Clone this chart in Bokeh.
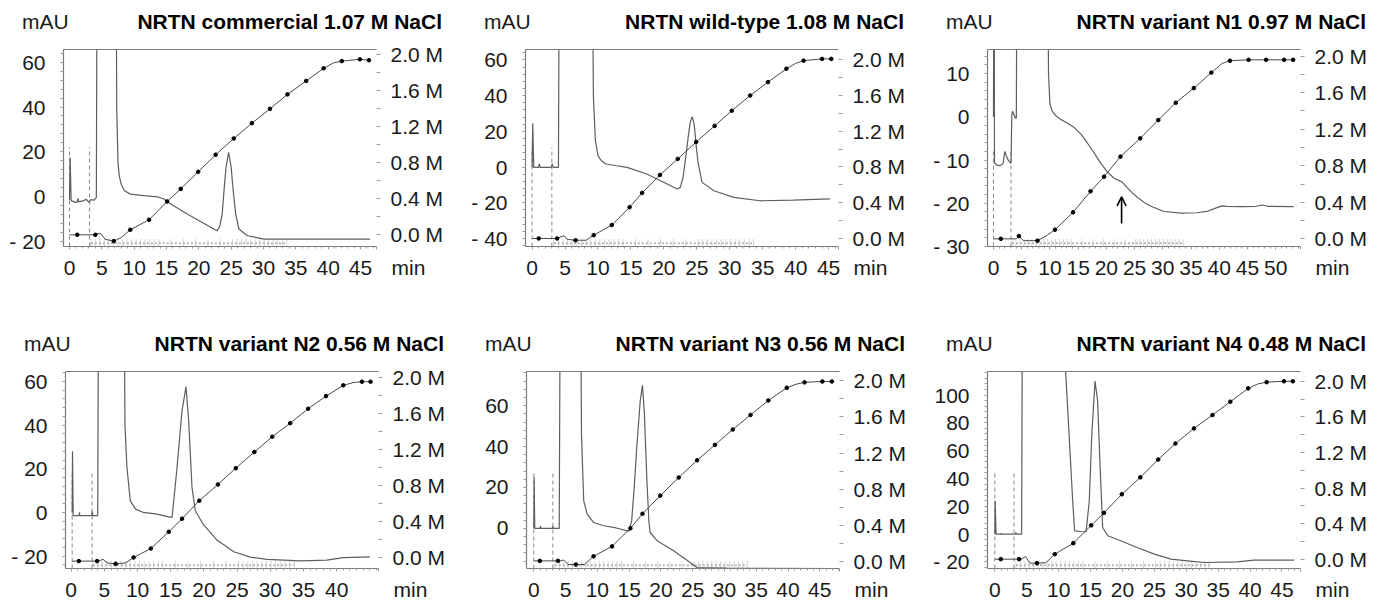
from bokeh.plotting import figure
from bokeh.layouts import row, column
from bokeh.models import (Range1d, LinearAxis, FixedTicker, PrintfTickFormatter,
                          CustomJSTickFormatter, Arrow, OpenHead, Div)
from bokeh.embed import file_html
from bokeh.resources import INLINE

FONT = "Liberation Sans"

titles = ["NRTN commercial 1.07 M NaCl", "NRTN wild-type 1.08 M NaCl",
          "NRTN variant N1 0.97 M NaCl", "NRTN variant N2 0.56 M NaCl",
          "NRTN variant N3 0.56 M NaCl", "NRTN variant N4 0.48 M NaCl"]

# ---------------- Panel 1: commercial ----------------
p1_uv_t = [0.0, 0.1, 0.25, 0.9, 1.2, 1.3, 1.45, 2.2, 2.6, 3.0, 3.3, 3.8, 4.15, 4.3, 7.15, 7.3, 7.5, 7.7, 8.0, 8.5,
           9.4, 11.5, 13.6, 14.6, 15.1, 18.2, 22.8, 23.2, 23.6, 23.9, 24.2, 24.6, 25.0, 25.3, 25.7, 26.2, 27.5, 30.1, 46.5]
p1_uv_mau = [-1.5, 17.5, -1.8, -2.6, -2.5, -0.8, -2.4, -1.8, -1.2, -2.6, -1.4, -1.6, -0.4, 150, 150, 40, 15, 9, 5.5, 2.6,
             1.1, 0.4, -0.1, -1.1, -2.3, -7.8, -15.3, -13.5, -8, 3, 13, 19.8, 13, 3, -8, -14.5, -17.5, -19.0, -19.0]
p1_grad_t = [0.0, 1.2, 4.0, 4.4, 4.9, 5.5, 6.85, 8.0, 9.4, 12.3, 15.1, 17.2, 19.9, 22.6, 25.4, 28.2, 31.0, 33.7,
             36.6, 39.3, 40.8, 42.1, 44.9, 46.3]
p1_grad_m = [0.0, 0.0, 0.0, 0.015, 0.01, -0.05, -0.07, -0.03, 0.056, 0.167, 0.37, 0.51, 0.70, 0.89, 1.07, 1.24, 1.40, 1.56,
             1.71, 1.85, 1.91, 1.93, 1.95, 1.94]
p1_dot_t = [1.2, 4.0, 6.85, 9.4, 12.3, 15.1, 17.2, 19.9, 22.6, 25.4, 28.2, 31.0, 33.7, 36.6, 39.3, 42.1, 44.9, 46.3]
p1_dot_m = [0.0, 0.0, -0.07, 0.056, 0.167, 0.37, 0.51, 0.70, 0.89, 1.07, 1.24, 1.40, 1.56, 1.71, 1.85, 1.93, 1.95, 1.94]

# ---------------- Panel 2: wild-type ----------------
p2_uv_t = [0.0, 0.1, 0.25, 1.0, 1.1, 1.2, 2.9, 3.05, 3.2, 4.0, 4.15, 9.1, 9.3, 9.6, 10.0, 10.5, 11.2, 12.8, 14.4, 17.4,
           20.5, 22.0, 22.5, 22.9, 23.3, 23.7, 24.0, 24.3, 24.6, 24.9, 25.2, 25.8, 27.6, 30.6, 34.6, 39.6, 45.2]
p2_uv_mau = [-0.2, 24.5, -0.2, -0.2, 1.7, -0.2, -0.2, 1.7, -0.2, -0.2, 150, 150, 40, 15, 6.5, 3.5, 1.7, 0.7, -0.2, -3.9,
             -9.5, -12.3, -11.4, -6, 5, 17, 25, 28.2, 24, 12, 2, -8.6, -13.3, -17.0, -18.9, -18.5, -17.8]
p2_grad_t = [0.0, 1.0, 3.8, 4.4, 4.9, 5.3, 6.6, 8.2, 9.35, 12.1, 14.8, 16.7, 19.4, 22.1, 24.9, 27.7, 30.3, 33.1,
             35.8, 38.6, 40.0, 41.2, 44.0, 45.4]
p2_grad_m = [0.0, 0.0, 0.0, 0.02, 0.03, -0.01, -0.02, -0.02, 0.037, 0.15, 0.35, 0.51, 0.71, 0.89, 1.08, 1.26, 1.43, 1.60,
             1.75, 1.90, 1.96, 1.99, 2.01, 2.01]
p2_dot_t = [1.0, 3.8, 6.6, 9.35, 12.1, 14.8, 16.7, 19.4, 22.1, 24.9, 27.7, 30.3, 33.1, 35.8, 38.6, 41.2, 44.0, 45.4]
p2_dot_m = [0.0, 0.0, -0.02, 0.037, 0.15, 0.35, 0.51, 0.71, 0.89, 1.08, 1.26, 1.43, 1.60, 1.75, 1.90, 1.99, 2.01, 2.01]

# ---------------- Panel 3: variant N1 ----------------
p3_uv_t = [0.0, 0.05, 0.12, 0.18, 0.6, 1.2, 1.7, 2.0, 2.3, 2.7, 3.1, 3.25, 3.4, 3.6, 3.9, 4.05, 4.15, 9.6, 9.75, 10.0,
           10.4, 11.0, 11.9, 13.0, 14.3, 15.5, 16.6, 17.8, 19.0, 20.2, 21.4, 22.2, 22.8, 23.7, 24.6, 25.5, 26.7, 27.9,
           30.2, 33.2, 36.1, 38.0, 39.6, 40.5, 41.4, 43.8, 46.5, 47.6, 48.6, 53.2]
p3_uv_mau = [0.0, 40, 40, -10.7, -11.2, -11.3, -10.8, -8.0, -9.2, -10.2, -10.8, 0.5, 1.3, 0.5, -0.3, -0.3, 40, 40, 10, 3,
             1.3, 0.3, -0.6, -1.4, -2.5, -4.0, -6.0, -8.3, -10.7, -12.8, -14.2, -14.7, -15.1, -16.4, -17.6, -18.6, -19.8,
             -20.7, -21.9, -22.3, -22.2, -21.8, -21.0, -20.6, -20.7, -20.8, -20.7, -20.4, -20.7, -20.8]
p3_grad_t = [0.0, 1.3, 4.0, 4.5, 5.3, 7.8, 9.3, 10.9, 14.1, 17.2, 19.6, 22.5, 26.0, 29.2, 32.3, 35.5, 38.6, 40.5,
             41.9, 45.2, 48.3, 51.5, 53.1]
p3_grad_m = [0.0, 0.0, 0.0, 0.03, -0.02, -0.02, 0.03, 0.10, 0.29, 0.52, 0.68, 0.90, 1.10, 1.30, 1.49, 1.65, 1.82, 1.92,
             1.95, 1.96, 1.96, 1.96, 1.96]
p3_dot_t = [1.3, 4.5, 7.8, 10.9, 14.1, 17.2, 19.6, 22.5, 26.0, 29.2, 32.3, 35.5, 38.6, 41.9, 45.2, 48.3, 51.5, 53.1]
p3_dot_m = [0.0, 0.03, -0.02, 0.10, 0.29, 0.52, 0.68, 0.90, 1.10, 1.30, 1.49, 1.65, 1.82, 1.95, 1.96, 1.96, 1.96, 1.96]
p3_arrow_t = 22.7
p3_arrow_mau = [-24.7, -18.5]

# ---------------- Panel 4: variant N2 ----------------
p4_uv_t = [0.15, 0.2, 0.3, 1.2, 1.25, 1.3, 3.1, 3.16, 3.25, 4.0, 4.16, 7.9, 8.1, 8.4, 8.9, 9.7, 10.9, 12.9, 14.7, 15.2,
           15.9, 16.7, 17.3, 17.7, 18.2, 18.7, 19.9, 21.9, 24.5, 27.0, 29.5, 34.5, 38.5, 41.0, 45.0]
p4_uv_mau = [0.0, 28, -1.5, -1.5, 0.0, -1.5, -1.5, 0.5, -1.5, -1.5, 150, 150, 40, 20.7, 5.4, 1.5, 0.0, -0.8, -2.0, -2.3,
             19.1, 46.7, 57.7, 42, 11.5, 0.8, -5.5, -12.5, -18.0, -20.5, -21.5, -22.2, -21.9, -20.7, -20.4]
p4_grad_t = [0.15, 1.15, 3.9, 4.3, 4.8, 5.4, 6.7, 8.2, 9.4, 12.0, 14.7, 16.7, 19.3, 22.1, 24.8, 27.6, 30.3, 33.0,
             35.7, 38.4, 41.0, 42.5, 43.8, 45.1]
p4_grad_m = [-0.04, -0.04, -0.04, -0.035, -0.02, -0.06, -0.07, -0.06, 0.0, 0.10, 0.285, 0.43, 0.63, 0.81, 0.99, 1.17,
             1.34, 1.49, 1.65, 1.79, 1.91, 1.94, 1.95, 1.95]
p4_dot_t = [1.15, 3.9, 6.7, 9.4, 12.0, 14.7, 16.7, 19.3, 22.1, 24.8, 27.6, 30.3, 33.0, 35.7, 38.4, 41.0, 43.8, 45.1]
p4_dot_m = [-0.04, -0.04, -0.07, 0.0, 0.10, 0.285, 0.43, 0.63, 0.81, 0.99, 1.17, 1.34, 1.49, 1.65, 1.79, 1.91, 1.95, 1.95]

# ---------------- Panel 5: variant N3 ----------------
p5_uv_t = [0.0, 0.05, 0.15, 1.0, 1.05, 1.1, 2.95, 3.0, 3.05, 4.0, 4.2, 7.3, 7.5, 7.85, 8.4, 9.4, 11.0, 12.6, 13.6, 14.4,
           15.0, 15.4, 15.8, 16.2, 16.75, 17.1, 17.4, 17.8, 18.1, 18.3, 19.4, 22.0, 24.6, 25.7, 30.4, 47.1]
p5_uv_mau = [0.0, 25, 0.0, 0.0, 1.1, 0.0, 0.0, 1.1, 0.0, 0.0, 150, 150, 46, 13.6, 7.0, 2.9, 1.3, 0.5, -0.3, -1.0,
             -1.2, 3.8, 20, 39.7, 62.5, 69.9, 56, 23, 3.8, -2.0, -6.0, -10.9, -16.7, -19.1, -19.4, -19.6]
p5_grad_t = [0.0, 0.94, 3.8, 4.2, 4.7, 5.4, 6.6, 8.0, 9.4, 12.3, 15.2, 17.1, 19.9, 22.8, 25.7, 28.5, 31.3, 34.1,
             36.9, 39.8, 41.3, 42.6, 45.4, 46.9]
p5_grad_m = [0.01, 0.01, 0.01, 0.01, 0.02, -0.03, -0.03, -0.03, 0.06, 0.17, 0.37, 0.53, 0.73, 0.93, 1.12, 1.29, 1.46,
             1.62, 1.78, 1.92, 1.96, 1.98, 1.99, 1.99]
p5_dot_t = [0.94, 3.8, 6.6, 9.4, 12.3, 15.2, 17.1, 19.9, 22.8, 25.7, 28.5, 31.3, 34.1, 36.9, 39.8, 42.6, 45.4, 46.9]
p5_dot_m = [0.01, 0.01, -0.03, 0.06, 0.17, 0.37, 0.53, 0.73, 0.93, 1.12, 1.29, 1.46, 1.62, 1.78, 1.92, 1.98, 1.99, 1.99]

# ---------------- Panel 6: variant N4 ----------------
p6_uv_t = [0.0, 0.05, 0.2, 0.9, 0.94, 1.0, 3.2, 3.3, 3.4, 4.2, 4.3, 10.7, 12.2, 12.5, 13.5, 14.3, 14.8, 15.2, 15.7, 16.1,
           16.5, 16.9, 17.7, 19.7, 22.3, 25.0, 27.6, 30.2, 32.8, 38.0, 40.6, 46.9]
p6_uv_mau = [0.0, 24, 0.0, 0.0, 0.7, 0.0, 0.0, 1.2, 0.0, 0.0, 150, 150, 24, 2.4, 1.9, 1.7, 24, 72, 110, 96,
             48, 4.8, -1.2, -4.8, -9.6, -14.4, -18.0, -19.2, -20.4, -19.9, -18.7, -18.7]
p6_grad_t = [0.0, 0.94, 3.8, 4.2, 4.8, 5.5, 6.6, 8.0, 9.4, 12.3, 15.1, 17.1, 19.9, 22.8, 25.6, 28.3, 31.2, 34.1,
             36.9, 39.7, 41.2, 42.6, 45.3, 46.7]
p6_grad_m = [0.0, 0.0, 0.0, 0.0, 0.03, -0.045, -0.045, -0.04, 0.056, 0.18, 0.38, 0.52, 0.73, 0.92, 1.12, 1.30, 1.47,
             1.62, 1.77, 1.92, 1.97, 1.99, 2.0, 2.0]
p6_dot_t = [0.94, 3.8, 6.6, 9.4, 12.3, 15.1, 17.1, 19.9, 22.8, 25.6, 28.3, 31.2, 34.1, 36.9, 39.7, 42.6, 45.3, 46.7]
p6_dot_m = [0.0, 0.0, -0.045, 0.056, 0.18, 0.38, 0.52, 0.73, 0.92, 1.12, 1.30, 1.47, 1.62, 1.77, 1.92, 1.99, 2.0, 2.0]

# injection markers (dashed lines) per panel
inject_t = [[0.0, 3.1], [0.0, 3.0], [0.0, 3.1], [0.15, 3.15], [0.0, 3.0], [0.0, 3.0]]
inject_top = [22, 11, -7.6, 19, 28, 45.6]

# fraction collector marks (min)
frac_edges = [3.3, 4.0, 4.7, 5.4, 6.1, 6.8, 7.5, 8.2, 8.9, 9.6, 10.3, 11.0, 11.7, 12.4, 13.1, 13.8, 15.7, 17.6,
              19.5, 21.4, 23.3, 25.2, 25.9, 26.6, 27.3, 28.0, 28.7, 29.4, 30.1, 30.8, 31.5, 32.2, 32.9, 33.6]

conc_ticks = [0.0, 0.4, 0.8, 1.2, 1.6, 2.0]
conc_minor = [0.2, 0.6, 1.0, 1.4, 1.8]

# ---------------- layout config (ranges / borders) ----------------
cfgs = [
    dict(x=(-0.93, 47.47), y=(-22.3, 65.7), c=(-0.13, 2.059), yt=[-20, 0, 20, 40, 60], ym=4,
         xt=[0, 5, 10, 15, 20, 25, 30, 35, 40, 45], bl=63, br=86),
    dict(x=(-1.0, 46.5), y=(-44.5, 65.8), c=(-0.09, 2.115), yt=[-40, -20, 0, 20, 40, 60], ym=4,
         xt=[0, 5, 10, 15, 20, 25, 30, 35, 40, 45], bl=63, br=86),
    dict(x=(-1.06, 54.4), y=(-30.0, 15.56), c=(-0.084, 2.073), yt=[-30, -20, -10, 0, 10], ym=2,
         xt=[0, 5, 10, 15, 20, 25, 30, 35, 40, 45, 50], bl=63, br=80),
    dict(x=(-0.857, 46.3), y=(-25.7, 64.6), c=(-0.122, 2.063), yt=[-20, 0, 20, 40, 60], ym=4,
         xt=[0, 5, 10, 15, 20, 25, 30, 35, 40], bl=65, br=84),
    dict(x=(-1.15, 48.1), y=(-19.6, 76.7), c=(-0.074, 2.10), yt=[-20, 0, 20, 40, 60], ym=4,
         xt=[0, 5, 10, 15, 20, 25, 30, 35, 40, 45], bl=64, br=85),
    dict(x=(-1.15, 47.9), y=(-24.7, 116.9), c=(-0.105, 2.11), yt=[-20, 0, 20, 40, 60, 80, 100], ym=4,
         xt=[0, 5, 10, 15, 20, 25, 30, 35, 40, 45], bl=63, br=80),
]

FRAME_W, FRAME_H = 313, 197
HEAD_H = 40
TXT = "#1a1a1a"
AXC = "#7a7a7a"
TKC = "#9a9a9a"
TRACE = "#5e5e5e"
GRAD = "#4a4a4a"


def style(ax, size="21px"):
    ax.major_label_text_font = FONT
    ax.major_label_text_font_size = size
    ax.major_label_text_color = TXT
    ax.axis_line_color = AXC
    ax.axis_line_width = 1.2
    ax.major_tick_line_color = TKC
    ax.minor_tick_line_color = TKC
    ax.major_tick_in = 0
    ax.minor_tick_in = 0


def build(i, uv_t, uv_v, g_t, g_m, d_t, d_m, bt, bb):
    cfg = cfgs[i]
    xs, xe = cfg["x"]
    ys, ye = cfg["y"]
    cs, ce = cfg["c"]
    p = figure(frame_width=FRAME_W, frame_height=FRAME_H,
               x_range=Range1d(xs, xe), y_range=Range1d(ys, ye),
               x_axis_type=None, y_axis_type=None,
               output_backend="svg", toolbar_location=None,
               min_border_left=cfg["bl"], min_border_right=cfg["br"],
               min_border_top=bt, min_border_bottom=bb)
    p.extra_y_ranges = {"conc": Range1d(cs, ce)}
    p.outline_line_color = None
    p.background_fill_color = "white"
    p.border_fill_color = "white"

    # left axis (mAU)
    yminor = [v for v in range(int(cfg["yt"][0]) - 20, int(ye) + 1, cfg["ym"]) if ys <= v <= ye]
    lax = LinearAxis(ticker=FixedTicker(ticks=cfg["yt"], minor_ticks=yminor),
                     formatter=CustomJSTickFormatter(code="return tick < 0 ? '- ' + Math.abs(tick) : tick.toFixed(0);"))
    style(lax)
    lax.major_tick_out = 3
    lax.minor_tick_out = 3
    lax.major_label_standoff = 15
    p.add_layout(lax, "left")

    # bottom axis (min) - the unit "min" is the label of a tick at the frame's right edge
    lim = xe - 0.02
    xminor = [v for v in range(0, int(xe) + 1)]
    bax = LinearAxis(ticker=FixedTicker(ticks=cfg["xt"] + [lim], minor_ticks=xminor),
                     formatter=CustomJSTickFormatter(
                         args=dict(lim=lim - 0.01),
                         code="if (tick >= lim) { return '\\u00a0'.repeat(11) + 'min'; } return tick.toFixed(0);"))
    style(bax)
    bax.major_tick_out = 3
    bax.minor_tick_out = 2
    bax.major_label_standoff = 6
    p.add_layout(bax, "below")

    # right axis (M)
    rax = LinearAxis(y_range_name="conc", ticker=FixedTicker(ticks=conc_ticks, minor_ticks=conc_minor),
                     formatter=PrintfTickFormatter(format="%.1f M"))
    style(rax)
    rax.axis_line_color = None
    rax.major_tick_out = 4
    rax.minor_tick_out = 4
    rax.major_label_standoff = 10
    p.add_layout(rax, "right")

    # top frame line
    tax = LinearAxis(ticker=FixedTicker(ticks=[]), major_label_text_font_size="0px")
    tax.axis_line_color = AXC
    tax.axis_line_width = 1.2
    tax.major_tick_line_color = None
    tax.minor_tick_line_color = None
    tax.major_tick_out = 0
    tax.minor_tick_out = 0
    tax.major_label_standoff = 0
    p.add_layout(tax, "above")

    # fraction collector marks
    fh = 7 * (ye - ys) / FRAME_H
    n = len(frac_edges)
    p.segment(x0=frac_edges, y0=[ys] * n, x1=frac_edges, y1=[ys + fh] * n,
              line_color="#a8a8a8", line_width=1, line_dash="1 1")
    p.line([frac_edges[0], frac_edges[-1]], [ys + fh * 0.45] * 2,
           line_color="#b8b8b8", line_width=2, line_dash="2 2")

    # injection dashed markers
    it = inject_t[i]
    p.segment(x0=it, y0=[ys] * len(it), x1=it, y1=[inject_top[i]] * len(it),
              line_color="#8a8a8a", line_width=1, line_dash="4 3")

    # UV trace
    p.line(uv_t, uv_v, line_color=TRACE, line_width=1.2)
    # gradient
    p.line(g_t, g_m, y_range_name="conc", line_color=GRAD, line_width=1.0)
    p.scatter(d_t, d_m, y_range_name="conc", size=3.6, color="black")
    return p


def header(i, fig_w):
    cfg = cfgs[i]
    left = cfg["bl"] - 41
    right = fig_w - (cfg["bl"] + FRAME_W + 66)
    html = (
        f'<div style="position:relative;width:{fig_w}px;height:{HEAD_H}px;'
        f"font-family:'{FONT}',sans-serif;font-size:21px;line-height:24px;white-space:nowrap;\">"
        f'<span style="position:absolute;left:{left}px;top:10px;color:{TXT};">mAU</span>'
        f'<span style="position:absolute;right:{right}px;top:10px;color:#000;font-weight:bold;">{titles[i]}</span>'
        '</div>'
    )
    return Div(text=html, width=fig_w, height=HEAD_H, margin=0)


f1 = build(0, p1_uv_t, p1_uv_mau, p1_grad_t, p1_grad_m, p1_dot_t, p1_dot_m, 9, 76)
f2 = build(1, p2_uv_t, p2_uv_mau, p2_grad_t, p2_grad_m, p2_dot_t, p2_dot_m, 9, 76)
f3 = build(2, p3_uv_t, p3_uv_mau, p3_grad_t, p3_grad_m, p3_dot_t, p3_dot_m, 9, 76)
f3.add_layout(Arrow(end=OpenHead(size=9, line_width=1.6, line_color="black"),
                    x_start=p3_arrow_t, y_start=p3_arrow_mau[0], x_end=p3_arrow_t, y_end=p3_arrow_mau[1],
                    line_width=1.6, line_color="black"))
f4 = build(3, p4_uv_t, p4_uv_mau, p4_grad_t, p4_grad_m, p4_dot_t, p4_dot_m, 9, 33)
f5 = build(4, p5_uv_t, p5_uv_mau, p5_grad_t, p5_grad_m, p5_dot_t, p5_dot_m, 9, 33)
f6 = build(5, p6_uv_t, p6_uv_mau, p6_grad_t, p6_grad_m, p6_dot_t, p6_dot_m, 9, 33)

figs = [f1, f2, f3, f4, f5, f6]
cells = []
for i, f in enumerate(figs):
    w = cfgs[i]["bl"] + FRAME_W + cfgs[i]["br"]
    cells.append(column(header(i, w), f, spacing=0))

layout = column(row(cells[0], cells[1], cells[2], spacing=0),
                row(cells[3], cells[4], cells[5], spacing=0), spacing=0)
open("out.html", "w").write(file_html(layout, INLINE))
